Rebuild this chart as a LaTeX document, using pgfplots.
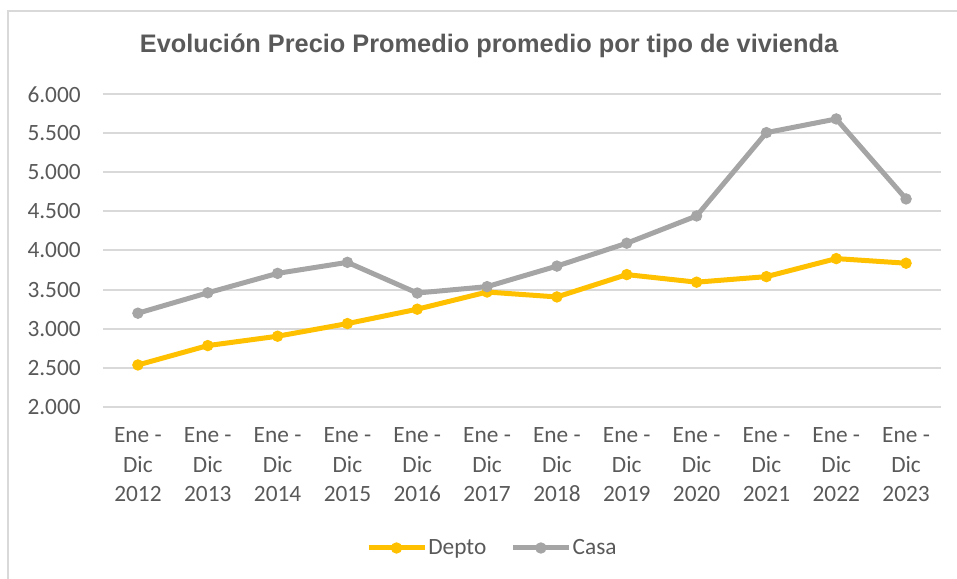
\documentclass[border=0pt]{standalone}
\usepackage{fontspec}
\setmainfont{Carlito}
\newfontfamily\titlefont{Liberation Sans}
\usepackage{pgfplots}
\pgfplotsset{compat=1.18}
\definecolor{depto}{HTML}{FFC000}
\definecolor{casa}{HTML}{A5A5A5}
\definecolor{gridc}{HTML}{D9D9D9}
\definecolor{txt}{HTML}{595959}

\begin{document}
\begin{tikzpicture}
% frame: 957x579 px at 0.75pt per px, origin at the plot's lower left
\useasboundingbox (-77.25pt,-129.2pt) rectangle (640.5pt,305pt);
\draw[gridc, line width=1.5pt] (-70.9pt,-129.2pt) -- (-70.9pt,296.4pt) -- (640.5pt,296.4pt);
\begin{axis}[
  scale only axis,
  width=628.5pt, height=234.3pt,
  xmin=-0.5, xmax=11.5,
  ymin=2000, ymax=6000,
  axis line style={draw=none},
  tick style={draw=none},
  ytick={2000,2500,3000,3500,4000,4500,5000,5500,6000},
  yticklabels={2.000,2.500,3.000,3.500,4.000,4.500,5.000,5.500,6.000},
  xtick={0,...,11},
  xticklabels={Ene -\\Dic\\2012,Ene -\\Dic\\2013,Ene -\\Dic\\2014,Ene -\\Dic\\2015,
    Ene -\\Dic\\2016,Ene -\\Dic\\2017,Ene -\\Dic\\2018,Ene -\\Dic\\2019,
    Ene -\\Dic\\2020,Ene -\\Dic\\2021,Ene -\\Dic\\2022,Ene -\\Dic\\2023},
  ymajorgrids,
  grid style={gridc, line width=1.5pt},
  yticklabel style={font=\fontsize{17.5}{21}\selectfont, text=txt, inner sep=0pt, anchor=east, xshift=-16.5pt},
  xticklabel style={font=\fontsize{17.5}{22.1}\selectfont, text=txt, inner sep=0pt, anchor=north, align=center, yshift=-15.8pt},
  legend columns=2,
  legend style={draw=none, fill=none, at={(0.4642,-0.4524)}, anchor=center,
    font=\fontsize{17.5}{21}\selectfont, text=txt,
    /tikz/every even column/.append style={column sep=17pt},
    nodes={inner sep=1pt}},
  legend image code/.code={\draw[#1,mark repeat=2,mark phase=2] plot coordinates {(0pt,0pt) (21pt,0pt) (42pt,0pt)};},
  clip=false,
]
\addplot[depto, line width=3.75pt, mark=*, mark size=3.9pt, mark options={fill=depto, draw=depto, line width=0.75pt}]
  coordinates {(0,2534)(1,2782)(2,2902)(3,3064)(4,3248)(5,3468)(6,3405)(7,3691)(8,3594)(9,3665)(10,3896)(11,3837)};
\addlegendentry{Depto}
\addplot[casa, line width=3.75pt, mark=*, mark size=3.9pt, mark options={fill=casa, draw=casa, line width=0.75pt}]
  coordinates {(0,3197)(1,3458)(2,3707)(3,3848)(4,3455)(5,3537)(6,3800)(7,4093)(8,4442)(9,5509)(10,5684)(11,4660)};
\addlegendentry{Casa}
\end{axis}
\node[anchor=base, text=txt, font=\titlefont\bfseries\fontsize{19}{23}\selectfont] at (289.5pt,265.3pt)
  {Evolución Precio Promedio promedio por tipo de vivienda};
\end{tikzpicture}
\end{document}
